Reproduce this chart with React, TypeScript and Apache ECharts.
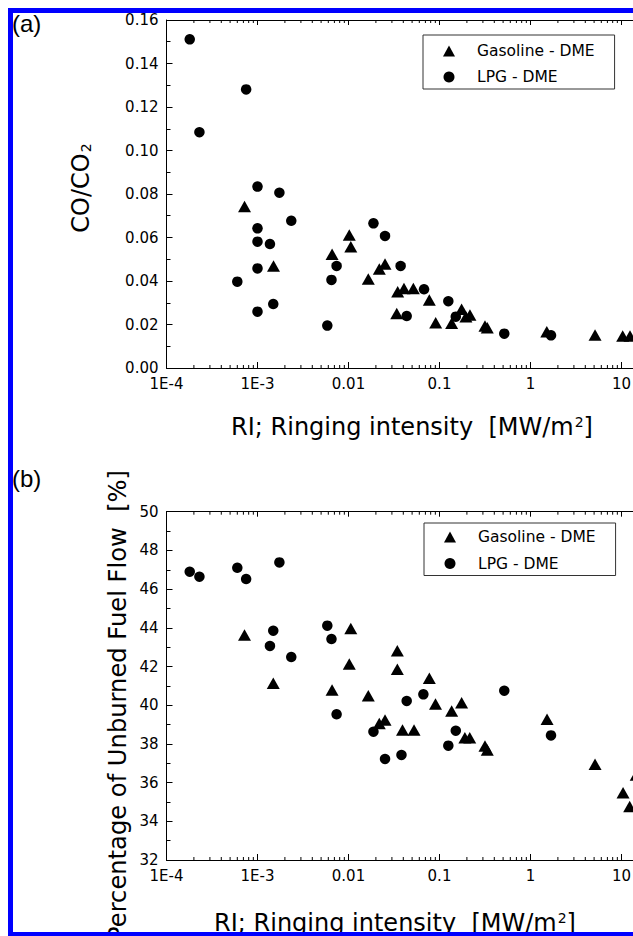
import React, { useEffect, useRef } from 'react';
import * as echarts from 'echarts';

// ---------- data ----------
// tick labels per decade (the 100 decade lies beyond the cropped picture edge)
const xTickLabels = ['1E-4', '1E-3', '0.01', '0.1', '1', '10', ''];
const decades = [1e-4, 1e-3, 1e-2, 1e-1, 1, 10];
const minorMultipliers = [2, 3, 4, 5, 6, 7, 8, 9];

// (a) CO/CO2 vs RI
const gasolineCO: number[][] = [
  [7.2e-4, 0.0742], [1.5e-3, 0.0469], [6.6e-3, 0.0523], [0.0102, 0.0611],
  [0.0106, 0.0558], [0.0165, 0.0409], [0.0218, 0.0455], [0.0252, 0.0478],
  [0.0339, 0.0251], [0.0347, 0.0351], [0.0407, 0.0366], [0.0516, 0.0366],
  [0.0773, 0.0313], [0.0908, 0.0208], [0.136, 0.0206], [0.195, 0.0236],
  [0.175, 0.027], [0.216, 0.0244], [0.316, 0.0193], [0.335, 0.0185],
  [1.51, 0.0167], [5.12, 0.0152], [10.3, 0.0147], [12.4, 0.0147],
];
const lpgCO: number[][] = [
  [1.8e-4, 0.1511], [2.3e-4, 0.1084], [6.0e-4, 0.0397], [7.5e-4, 0.1281],
  [1.0e-3, 0.0834], [1.0e-3, 0.0642], [1.0e-3, 0.0581], [1.0e-3, 0.0458],
  [1.0e-3, 0.0259], [1.37e-3, 0.057], [1.49e-3, 0.0294], [1.74e-3, 0.0806],
  [2.35e-3, 0.0677], [5.85e-3, 0.0195], [6.5e-3, 0.0405], [7.4e-3, 0.0469],
  [0.0188, 0.0665], [0.0252, 0.0607], [0.0374, 0.0469], [0.0436, 0.0239],
  [0.0676, 0.0362], [0.125, 0.0307], [0.151, 0.0236], [0.515, 0.0158],
  [1.68, 0.015],
];

// (b) Percentage of unburned fuel flow vs RI
const gasolineUF: number[][] = [
  [7.2e-4, 43.63], [1.49e-3, 41.13], [6.6e-3, 40.79], [0.0102, 42.13],
  [0.0106, 43.97], [0.0165, 40.49], [0.0218, 39.06], [0.0252, 39.24],
  [0.0344, 42.82], [0.0344, 41.86], [0.0392, 38.72], [0.0525, 38.72],
  [0.0773, 41.39], [0.0904, 40.06], [0.136, 39.7], [0.175, 40.13],
  [0.19, 38.32], [0.215, 38.32], [0.316, 37.89], [0.335, 37.68],
  [1.52, 39.27], [5.12, 36.95], [10.4, 35.48], [12.3, 34.76], [14.5, 36.39],
];
const lpgUF: number[][] = [
  [1.8e-4, 46.9], [2.3e-4, 46.64], [6.0e-4, 47.1], [7.5e-4, 46.52],
  [1.37e-3, 43.06], [1.49e-3, 43.85], [1.74e-3, 47.38], [2.35e-3, 42.49],
  [5.85e-3, 44.11], [6.5e-3, 43.42], [7.4e-3, 39.53], [0.0188, 38.63],
  [0.0252, 37.22], [0.0382, 37.43], [0.0436, 40.22], [0.0665, 40.56],
  [0.125, 37.91], [0.151, 38.68], [0.515, 40.75], [1.68, 38.44],
];

const seriesNames = ['Gasoline - DME', 'LPG - DME'];
const yRangeA = [0, 0.16];
const yRangeB = [32, 50];

// ---------- helpers ----------
const FONT = 'DejaVu Sans';
const minorTicks: number[] = [];
decades.forEach((d) => minorMultipliers.forEach((m) => minorTicks.push(d * m)));

function xAxes(grid: number) {
  const common = {
    type: 'log',
    logBase: 10,
    min: 1e-4,
    max: 100,
    splitNumber: 6,
    gridIndex: grid,
    splitLine: { show: false },
    axisLine: { show: true, lineStyle: { color: '#000', width: 1 } },
    axisTick: { show: true, inside: true, length: 6, lineStyle: { color: '#000' } },
  };
  return [
    {
      ...common,
      position: 'bottom',
      axisLabel: {
        color: '#000',
        fontFamily: FONT,
        fontSize: 15,
        margin: 8,
        formatter: (v: number) => xTickLabels[Math.round(Math.log10(v)) + 4] ?? '',
      },
    },
    { ...common, position: 'top', axisLabel: { show: false }, axisTick: { ...common.axisTick, length: 5 } },
  ];
}

function yAxis(grid: number, range: number[], interval: number, digits: number) {
  return {
    type: 'value',
    gridIndex: grid,
    min: range[0],
    max: range[1],
    interval,
    splitLine: { show: false },
    axisLine: { show: true, lineStyle: { color: '#000', width: 1 } },
    axisTick: { show: true, inside: true, length: 6, lineStyle: { color: '#000' } },
    minorTick: { show: true, splitNumber: 2, length: 4, lineStyle: { color: '#000' } },
    axisLabel: {
      color: '#000',
      fontFamily: FONT,
      fontSize: 15,
      margin: 8,
      formatter: (v: number) => v.toFixed(digits),
    },
  };
}

function minorTickSeries(axisX: number, axisY: number, range: number[]) {
  return {
    type: 'custom',
    xAxisIndex: axisX,
    yAxisIndex: axisY,
    silent: true,
    clip: false,
    data: minorTicks.map((v) => [v, range[0]]),
    renderItem: (_p: any, api: any) => {
      const v = api.value(0);
      const b = api.coord([v, range[0]]);
      const t = api.coord([v, range[1]]);
      return {
        type: 'group',
        children: [
          { type: 'line', shape: { x1: b[0], y1: b[1], x2: b[0], y2: b[1] - 3 }, style: { stroke: '#000', lineWidth: 1 } },
          { type: 'line', shape: { x1: t[0], y1: t[1], x2: t[0], y2: t[1] + 3 }, style: { stroke: '#000', lineWidth: 1 } },
        ],
      };
    },
  };
}

function scatter(name: string, data: number[][], xi: number, yi: number, tri: boolean) {
  return {
    type: 'scatter',
    name,
    xAxisIndex: xi,
    yAxisIndex: yi,
    data,
    symbol: tri ? 'triangle' : 'circle',
    symbolSize: tri ? [13, 11.5] : 10.5,
    itemStyle: { color: '#000', opacity: 1 },
    z: 3,
  };
}

function legend(left: number, top: number, padding: number[], gap: number) {
  return {
    left,
    top,
    orient: 'vertical',
    selectedMode: false,
    data: [
      { name: seriesNames[0], icon: 'triangle' },
      { name: seriesNames[1], icon: 'circle' },
    ],
    itemWidth: 12,
    itemHeight: 11,
    itemGap: gap,
    padding,
    borderColor: '#333',
    borderWidth: 1,
    borderRadius: 0,
    itemStyle: { color: '#000', opacity: 1 },
    textStyle: { fontFamily: FONT, fontSize: 15.5, color: '#000', padding: [0, 0, 0, 17] },
  };
}

const nameStyle = (text: string, extra: any = {}) => ({
  text,
  fontFamily: FONT,
  fontSize: 24,
  fill: '#000',
  align: 'center',
  verticalAlign: 'middle',
  rich: {
    sub: { fontFamily: FONT, fontSize: 14, verticalAlign: 'bottom', padding: [8, 0, 0, 1] },
    sup: { fontFamily: FONT, fontSize: 14, verticalAlign: 'top', padding: [0, 0, 10, 1] },
  },
  ...extra,
});

const option: any = {
  animation: false,
  backgroundColor: '#fff',
  grid: [
    { left: 166.5, top: 20, width: 546, height: 348 },
    { left: 166.5, top: 511.7, width: 546, height: 348.3 },
  ],
  xAxis: [...xAxes(0), ...xAxes(1)],
  yAxis: [yAxis(0, yRangeA, 0.02, 2), yAxis(1, yRangeB, 2, 0)],
  legend: [legend(423, 35, [8, 20, 4, 20], 10), legend(424, 523, [6, 20, 4, 20], 10.5)],
  series: [
    minorTickSeries(0, 0, yRangeA),
    minorTickSeries(2, 1, yRangeB),
    scatter(seriesNames[0], gasolineCO, 0, 0, true),
    scatter(seriesNames[1], lpgCO, 0, 0, false),
    scatter(seriesNames[0], gasolineUF, 2, 1, true),
    scatter(seriesNames[1], lpgUF, 2, 1, false),
  ],
  graphic: [
    { type: 'text', left: 12, top: 11, style: { text: '(a)', fontFamily: 'Liberation Sans', fontSize: 24, fill: '#000' } },
    { type: 'text', left: 12, top: 466, style: { text: '(b)', fontFamily: 'Liberation Sans', fontSize: 24, fill: '#000' } },
    { type: 'text', x: 81, y: 188, rotation: Math.PI / 2, style: nameStyle('CO/CO{sub|2}', { fontSize: 24 }) },
    { type: 'text', x: 412, y: 427, style: nameStyle('RI; Ringing intensity  [MW/m{sup|2}]') },
    { type: 'text', x: 395, y: 923, style: nameStyle('RI; Ringing intensity  [MW/m{sup|2}]') },
    {
      type: 'text', x: 118, y: 470, rotation: Math.PI / 2,
      style: nameStyle('Percentage of Unburned Fuel Flow  [%]', { align: 'right', fontSize: 24.2 }),
    },
  ],
};

export default function App() {
  const ref = useRef<HTMLDivElement>(null);
  useEffect(() => {
    const chart = echarts.init(ref.current!, null, { renderer: 'svg' });
    chart.setOption(option);
    return () => chart.dispose();
  }, []);
  return (
    <div
      style={{
        position: 'fixed',
        left: 8,
        top: 8,
        width: 625,
        height: 928,
        boxSizing: 'border-box',
        borderTop: '5px solid #0000ff',
        borderLeft: '5px solid #0000ff',
        borderBottom: '4px solid #0000ff',
        overflow: 'hidden',
        background: '#fff',
      }}
    >
      <div ref={ref} style={{ position: 'absolute', left: -13, top: -13, width: 900, height: 960 }} />
    </div>
  );
}
